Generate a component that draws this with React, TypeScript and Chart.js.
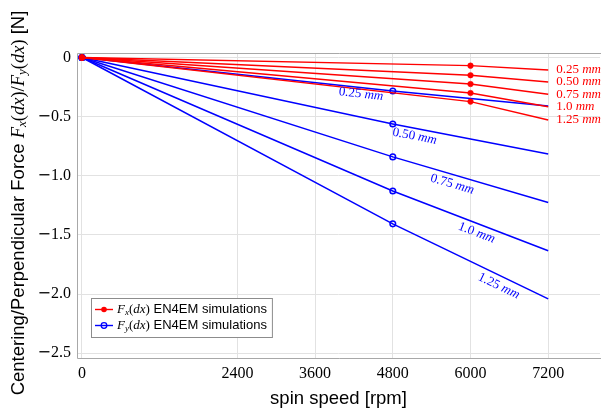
import React, { useEffect, useRef } from 'react';
import { Chart, registerables } from 'chart.js';

Chart.register(...registerables);

// ---- data ----
const sizeLabels = ['0.25', '0.50', '0.75', '1.0', '1.25'];
const fxSpeeds = [0, 6000, 7200];
const fySpeeds = [0, 4800, 7200];

const fx025 = [0, -0.069, -0.106];
const fx050 = [0, -0.150, -0.207];
const fx075 = [0, -0.224, -0.311];
const fx100 = [0, -0.300, -0.416];
const fx125 = [0, -0.373, -0.528];

const fy025 = [0, -0.283, -0.410];
const fy050 = [0, -0.562, -0.815];
const fy075 = [0, -0.840, -1.225];
const fy100 = [0, -1.128, -1.634];
const fy125 = [0, -1.406, -2.040];

const fxSeries = [fx025, fx050, fx075, fx100, fx125];
const fySeries = [fy025, fy050, fy075, fy100, fy125];

const xTickValues = [0, 2400, 3600, 4800, 6000, 7200];
const yTickValues = [0, -0.5, -1.0, -1.5, -2.0, -2.5];

// label placement along blue lines: [segment index, fraction, offset px]
const fyLabelPlacement = [
  [0, 0.9, 6.5],
  [1, 0.15, 8],
  [1, 0.4, 9.5],
  [1, 0.56, 9],
  [1, 0.71, 10],
];

const RED = '#ff0000';
const BLUE = '#0000ff';
const SERIF = '"Liberation Serif", "Times New Roman", serif';
const SANS = '"Liberation Sans", Arial, sans-serif';

type Run = { text: string; font: string; dy?: number };

function mathRuns(sub: string, size: number): Run[] {
  const it = `italic ${size}px ${SERIF}`;
  const up = `${size}px ${SERIF}`;
  const sm = `italic ${Math.round(size * 0.7)}px ${SERIF}`;
  return [
    { text: 'F', font: it },
    { text: sub, font: sm, dy: size * 0.22 },
    { text: '(', font: up },
    { text: 'dx', font: it },
    { text: ')', font: up },
  ];
}

function runsWidth(ctx: CanvasRenderingContext2D, runs: Run[]) {
  let w = 0;
  for (const r of runs) {
    ctx.font = r.font;
    w += ctx.measureText(r.text).width;
  }
  return w;
}

function drawRuns(ctx: CanvasRenderingContext2D, runs: Run[], x: number, y: number) {
  let cx = x;
  for (const r of runs) {
    ctx.font = r.font;
    ctx.fillText(r.text, cx, y + (r.dy || 0));
    cx += ctx.measureText(r.text).width;
  }
  return cx;
}

const decorPlugin = {
  id: 'decor',
  beforeDatasetsDraw(chart: any) {
    const { ctx, chartArea } = chart;
    const { left, right, top, bottom } = chartArea;
    ctx.save();
    ctx.strokeStyle = '#a8a8a8';
    ctx.lineWidth = 1;
    ctx.beginPath();
    ctx.moveTo(right + 1, top + 0.5);
    ctx.lineTo(left + 0.5, top + 0.5);
    ctx.lineTo(left + 0.5, bottom + 0.5);
    ctx.lineTo(right + 1, bottom + 0.5);
    ctx.stroke();
    ctx.restore();
  },
  afterDatasetsDraw(chart: any) {
    const { ctx } = chart;
    const xs = chart.scales.x;
    const ys = chart.scales.y;
    ctx.save();
    // red labels at line ends
    ctx.fillStyle = RED;
    ctx.textBaseline = 'middle';
    fxSeries.forEach((s, i) => {
      const n = s.length - 1;
      const px = xs.getPixelForValue(fxSpeeds[n]) + 8;
      const py = ys.getPixelForValue(s[n]);
      drawRuns(ctx, [
        { text: sizeLabels[i] + ' ', font: `13px ${SERIF}` },
        { text: 'mm', font: `italic 13px ${SERIF}` },
      ], px, py);
    });
    // blue labels along lines
    ctx.fillStyle = BLUE;
    fySeries.forEach((s, i) => {
      const [seg, t, off] = fyLabelPlacement[i];
      const x0 = xs.getPixelForValue(fySpeeds[seg]);
      const y0 = ys.getPixelForValue(s[seg]);
      const x1 = xs.getPixelForValue(fySpeeds[seg + 1]);
      const y1 = ys.getPixelForValue(s[seg + 1]);
      const ang = Math.atan2(y1 - y0, x1 - x0);
      const px = x0 + (x1 - x0) * t - Math.sin(ang) * off;
      const py = y0 + (y1 - y0) * t + Math.cos(ang) * off;
      const runs: Run[] = [
        { text: sizeLabels[i] + ' ', font: `13px ${SERIF}` },
        { text: 'mm', font: `italic 13px ${SERIF}` },
      ];
      const w = runsWidth(ctx, runs);
      ctx.save();
      ctx.translate(px, py);
      ctx.rotate(ang);
      drawRuns(ctx, runs, -w / 2, 0);
      ctx.restore();
    });
    ctx.restore();
  },
  afterDraw(chart: any) {
    const { ctx, chartArea } = chart;
    const ys = chart.scales.y;
    ctx.save();

    // y tick labels (wide math minus)
    ctx.fillStyle = '#000';
    ctx.textBaseline = 'middle';
    ys.ticks.forEach((t: any) => {
      const v = t.value;
      const py = ys.getPixelForValue(v);
      const runs: Run[] = [];
      if (v < 0) runs.push({ text: '\u2212', font: `16px "DejaVu Sans", sans-serif` });
      runs.push({ text: v === 0 ? '0' : Math.abs(v).toFixed(1), font: `16px ${SERIF}` });
      const w = runsWidth(ctx, runs);
      drawRuns(ctx, runs, chartArea.left - 6 - w, py);
    });

    // legend
    const bx = chartArea.left + 14;
    const by = chartArea.bottom - 60;
    const entries = [
      { color: RED, sub: 'x', filled: true },
      { color: BLUE, sub: 'y', filled: false },
    ];
    let maxW = 0;
    const rowRuns = entries.map((e) => {
      const runs: Run[] = [...mathRuns(e.sub, 13), { text: ' EN4EM simulations', font: `13px ${SANS}` }];
      maxW = Math.max(maxW, runsWidth(ctx, runs));
      return runs;
    });
    const bw = 25 + maxW + 6;
    const bh = 39;
    ctx.fillStyle = '#ffffff';
    ctx.fillRect(bx, by, bw, bh);
    ctx.strokeStyle = '#8c8c8c';
    ctx.lineWidth = 1;
    ctx.strokeRect(bx + 0.5, by + 0.5, bw, bh);
    entries.forEach((e, i) => {
      const ry = by + 11.5 + i * 16;
      ctx.strokeStyle = e.color;
      ctx.lineWidth = 1.4;
      ctx.beginPath();
      ctx.moveTo(bx + 4, ry);
      ctx.lineTo(bx + 22, ry);
      ctx.stroke();
      ctx.beginPath();
      ctx.arc(bx + 13, ry, e.filled ? 2.8 : 2.8, 0, Math.PI * 2);
      if (e.filled) {
        ctx.fillStyle = e.color;
        ctx.fill();
      } else {
        ctx.lineWidth = 1.3;
        ctx.stroke();
      }
      ctx.fillStyle = '#000';
      drawRuns(ctx, rowRuns[i], bx + 26, ry);
    });

    // y-axis title
    const T = 18.5;
    const yRuns: Run[] = [
      { text: 'Centering/Perpendicular Force ', font: `${T}px ${SANS}` },
      ...mathRuns('x', T),
      { text: '/', font: `${T}px ${SERIF}` },
      ...mathRuns('y', T),
      { text: ' [N]', font: `${T}px ${SANS}` },
    ];
    const tw = runsWidth(ctx, yRuns);
    ctx.fillStyle = '#000';
    ctx.translate(19, 203);
    ctx.rotate(-Math.PI / 2);
    drawRuns(ctx, yRuns, -tw / 2, 0);
    ctx.restore();

    // x-axis title
    ctx.save();
    ctx.fillStyle = '#000';
    ctx.font = `18.5px ${SANS}`;
    ctx.textAlign = 'center';
    ctx.textBaseline = 'middle';
    ctx.fillText('spin speed [rpm]', (chartArea.left + chartArea.right) / 2, 399);
    ctx.restore();
  },
};

export default function App() {
  const ref = useRef<HTMLCanvasElement | null>(null);

  useEffect(() => {
    document.body.style.margin = '0';
    const canvas = ref.current;
    if (!canvas) return;

    const redSets = fxSeries.map((s, i) => ({
      label: `Fx ${sizeLabels[i]}`,
      data: s.map((v, j) => ({ x: fxSpeeds[j], y: v })),
      borderColor: RED,
      backgroundColor: RED,
      borderWidth: 1.4,
      pointRadius: s.map((_, j) => (j === s.length - 1 ? 0 : 2.8)),
      pointBackgroundColor: RED,
      pointBorderColor: RED,
      pointBorderWidth: 0.5,
      tension: 0,
      fill: false,
      order: 1,
    }));
    const blueSets = fySeries.map((s, i) => ({
      label: `Fy ${sizeLabels[i]}`,
      data: s.map((v, j) => ({ x: fySpeeds[j], y: v })),
      borderColor: BLUE,
      backgroundColor: 'rgba(0,0,0,0)',
      borderWidth: 1.5,
      pointRadius: s.map((_, j) => (j === s.length - 1 ? 0 : 2.8)),
      pointBackgroundColor: 'rgba(0,0,0,0)',
      pointBorderColor: BLUE,
      pointBorderWidth: 1.5,
      tension: 0,
      fill: false,
      order: 2,
    }));

    const chart = new Chart(canvas, {
      type: 'line',
      data: { datasets: [...redSets, ...blueSets] as any },
      plugins: [decorPlugin],
      options: {
        animation: false,
        responsive: false,
        maintainAspectRatio: false,
        layout: { autoPadding: false, padding: { top: 53, right: 1, left: 0, bottom: 0 } },
        plugins: { legend: { display: false }, tooltip: { enabled: false } },
        scales: {
          x: {
            type: 'linear',
            min: -77,
            max: 8000,
            afterBuildTicks: (s: any) => {
              s.ticks = xTickValues.map((v) => ({ value: v }));
            },
            afterFit: (s: any) => {
              s.height = 54;
              s.paddingLeft = 0;
              s.paddingRight = 0;
            },
            grid: { color: '#e2e2e2', drawTicks: false, lineWidth: 1 },
            border: { display: false },
            ticks: {
              color: '#000',
              font: { family: SERIF, size: 16 },
              padding: 6,
              autoSkip: false,
              maxRotation: 0,
              callback: (v: any) => String(v),
            },
          },
          y: {
            type: 'linear',
            min: -2.54,
            max: 0.038,
            afterBuildTicks: (s: any) => {
              s.ticks = yTickValues.map((v) => ({ value: v }));
            },
            afterFit: (s: any) => {
              s.width = 77;
              s.paddingTop = 0;
              s.paddingBottom = 0;
            },
            grid: { color: '#e2e2e2', drawTicks: false, lineWidth: 1 },
            border: { display: false },
            ticks: { display: false },
          },
        },
      } as any,
    });
    return () => chart.destroy();
  }, []);

  return (
    <div style={{ width: 601, height: 412 }}>
      <canvas ref={ref} width={601} height={412} style={{ display: 'block', width: 601, height: 412 }} />
    </div>
  );
}
